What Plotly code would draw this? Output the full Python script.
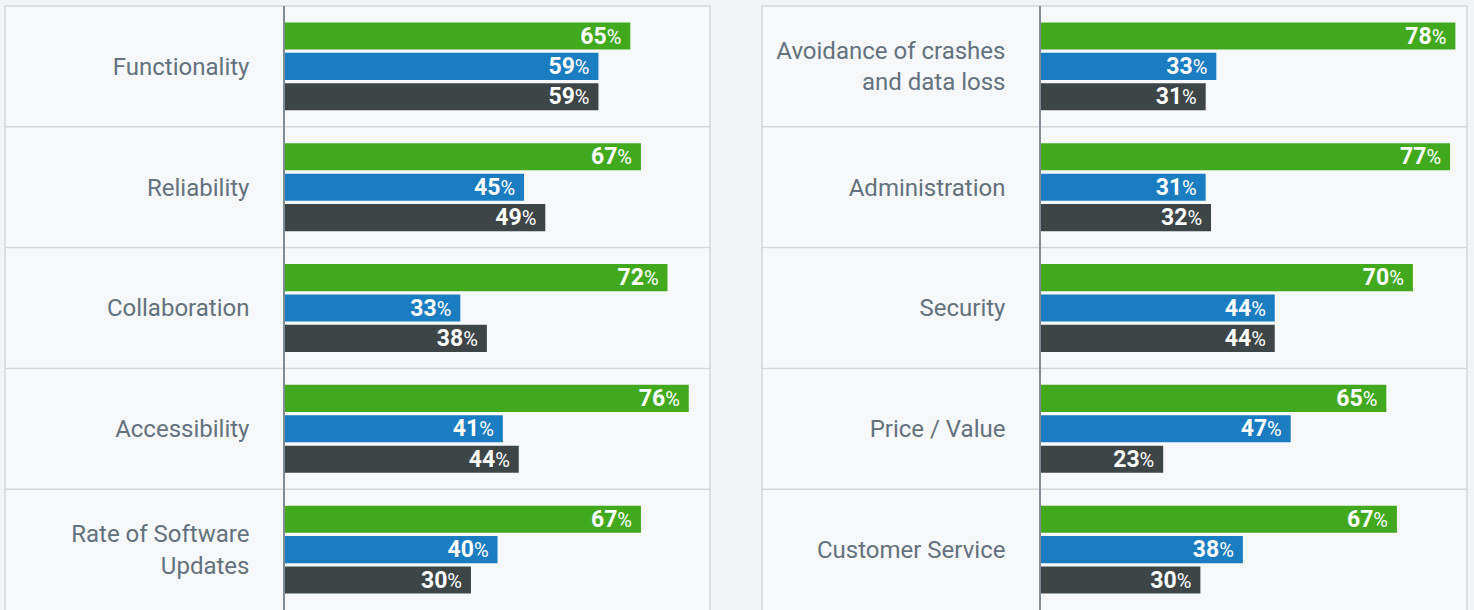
import plotly.graph_objects as go

W, H = 1474, 610

left_categories = ["Functionality", "Reliability", "Collaboration", "Accessibility",
                   "Rate of Software<br>Updates"]
left_green = [65, 67, 72, 76, 67]
left_blue = [59, 45, 33, 41, 40]
left_dark = [59, 49, 38, 44, 35]          # bar lengths as drawn
left_dark_labels = [59, 49, 38, 44, 30]   # printed labels

right_categories = ["Avoidance of crashes<br>and data loss", "Administration", "Security",
                    "Price / Value", "Customer Service"]
right_green = [78, 77, 70, 65, 67]
right_blue = [33, 31, 44, 47, 38]
right_dark = [31, 32, 44, 23, 30]

series_names = ["Series 1", "Series 2", "Series 3"]
series_colors = ["#42a91f", "#1a7cc1", "#3d4547"]

OUTER_BG = "#f2f3f5"
PANEL_BG = "#f7f8fa"
BORDER = "#d4d6da"
AXIS_LINE = "#7f8c96"
LABEL_COLOR = "#63727e"


def fmt(v):
    return (f"<b>{v}</b><span style='font-size:20px;font-weight:normal'>%</span>"
            f"<span style='font-size:12px'>&nbsp;&nbsp;</span>")


fig = go.Figure()

panels = [
    (left_categories, [left_green, left_blue, left_dark],
     [left_green, left_blue, left_dark_labels], "x", "y"),
    (right_categories, [right_green, right_blue, right_dark],
     [right_green, right_blue, right_dark], "x2", "y2"),
]
for cats, series, labels, xa, ya in panels:
    for name, color, vals, labs in zip(series_names, series_colors, series, labels):
        fig.add_trace(go.Bar(
            x=vals, y=cats, orientation="h", name=name,
            marker=dict(color=color, line=dict(width=0)),
            text=[fmt(v) for v in labs], textposition="inside",
            insidetextanchor="end",
            textfont=dict(family="Roboto", size=23, color="white"),
            xaxis=xa, yaxis=ya, hoverinfo="skip", showlegend=False,
        ))

lx0, lx1 = 285 / W, 710 / W
rx0, rx1 = 1041 / W, 1466 / W

axis_common = dict(range=[0, 80], showgrid=False, zeroline=False, showticklabels=False,
                   fixedrange=True)
yaxis_common = dict(range=[4.5, -0.5], showgrid=False, zeroline=False, showline=True,
                    linecolor=AXIS_LINE, linewidth=1.5, ticks="outside", ticklen=0,
                    ticklabelstandoff=29,
                    tickfont=dict(family="Roboto", size=24, color=LABEL_COLOR),
                    fixedrange=True)

shapes = []
# panel backgrounds
for px0, px1 in [(5 / W, 710 / W), (762 / W, 1467 / W)]:
    shapes.append(dict(type="rect", xref="paper", yref="paper", x0=px0, x1=px1,
                       y0=-0.02, y1=1, fillcolor=PANEL_BG,
                       line=dict(color=BORDER, width=1.5), layer="below"))
# row separators
for px0, px1, yref in [(5 / W, 710 / W, "y"), (762 / W, 1467 / W, "y2")]:
    for i in range(4):
        shapes.append(dict(type="line", xref="paper", yref=yref, x0=px0, x1=px1,
                           y0=i + 0.5, y1=i + 0.5,
                           line=dict(color=BORDER, width=1.5), layer="below"))

fig.update_layout(
    width=W, height=H,
    margin=dict(l=0, r=0, t=6, b=0),
    paper_bgcolor=OUTER_BG, plot_bgcolor="rgba(0,0,0,0)",
    barmode="group", bargap=0.245, bargroupgap=0.11,
    xaxis=dict(domain=[lx0, lx1], anchor="y", **axis_common),
    yaxis=dict(anchor="x", **yaxis_common),
    xaxis2=dict(domain=[rx0, rx1], anchor="y2", **axis_common),
    yaxis2=dict(anchor="x2", **yaxis_common),
    uniformtext=dict(minsize=23, mode="show"),
    shapes=shapes,
    showlegend=False,
)

fig.write_html(
    "out.html",
    config={"displayModeBar": False},
    post_script="document.body.style.margin='0';document.body.style.overflow='hidden';"
                "document.body.style.background='" + OUTER_BG + "';",
)
